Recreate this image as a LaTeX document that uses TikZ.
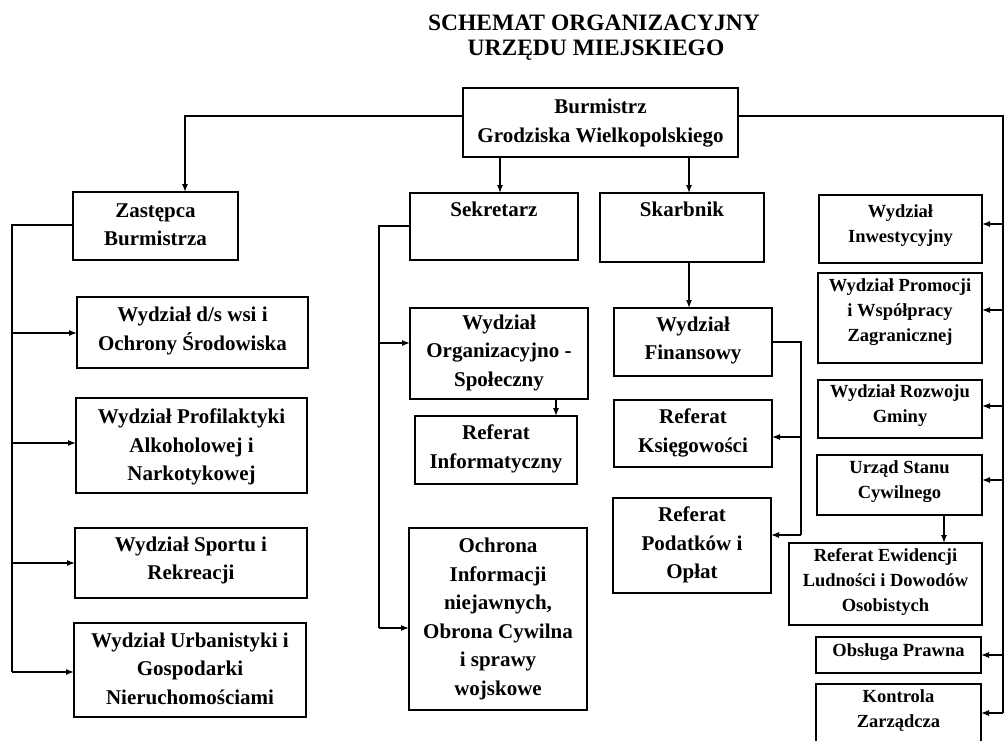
\documentclass[tikz,border=0pt]{standalone}
\usepackage{fontspec}
\setmainfont{Liberation Serif}
\usetikzlibrary{arrows.meta}
\begin{document}
\begin{tikzpicture}[x=1pt,y=-1pt,
  box/.style={draw, line width=1.8pt, inner sep=0pt, outer sep=0pt},
  txt/.style={align=center, inner sep=0pt, font=\fontsize{21}{28.5}\selectfont\bfseries},
  txs/.style={align=center, inner sep=0pt, font=\fontsize{18.5}{25}\selectfont\bfseries},
  ttl/.style={align=center, inner sep=0pt, font=\fontsize{23.5}{26}\selectfont\bfseries},
  con/.style={line width=1.3pt},
  arr/.style={line width=1.3pt, -{Latex[length=8pt,width=6pt]}}]
\useasboundingbox (0,0) rectangle (1004,740);
\fill[white] (0,0) rectangle (1004,740);
% title
\node[ttl] (title1) at (594,23) {SCHEMAT ORGANIZACYJNY};
\node[ttl] (title2) at (596,50) {URZĘDU MIEJSKIEGO};
% helper macro for boxes: name, x1,y1,x2,y2
\newcommand\bx[5]{\node[box, minimum width={#4-#2}, minimum height={#5-#3}] (#1) at ({(#2+#4)/2},{(#3+#5)/2}) {};}
\bx{burm}{463}{88}{738}{157}
\bx{zast}{73}{192}{238}{260}
\bx{sekr}{410}{193}{578}{260}
\bx{skar}{600}{193}{764}{262}
\bx{wsi}{77}{297}{308}{368}
\bx{prof}{76}{398}{307}{493}
\bx{sport}{75}{528}{307}{598}
\bx{urb}{74}{623}{306}{717}
\bx{org}{410}{308}{588}{399}
\bx{inf}{415}{416}{577}{484}
\bx{ochr}{409}{528}{587}{710}
\bx{fin}{614}{308}{772}{376}
\bx{ksieg}{614}{400}{772}{467}
\bx{pod}{613}{498}{771}{593}
\bx{inw}{819}{195}{982}{263}
\bx{prom}{818}{273}{982}{363}
\bx{rozw}{818}{380}{982}{438}
\bx{usc}{817}{455}{982}{515}
\bx{ewid}{789}{543}{982}{625}
\bx{prawna}{816}{637}{981}{673}
\bx{kontr}{816}{684}{981}{746}
% texts
\node[txt] (burm-t) at (600.5,123) {Burmistrz\\Grodziska Wielkopolskiego};
\node[txt] (zast-t) at (155.5,224.5) {Zastępca\\Burmistrza};
\node[txt] (sekr-t) at (494,209) {Sekretarz};
\node[txt] (skar-t) at (682,209) {Skarbnik};
\node[txt] (wsi-t) at (192.5,331) {Wydział d/s wsi i\\Ochrony Środowiska};
\node[txt] (prof-t) at (191.5,447) {Wydział Profilaktyki\\Alkoholowej i\\Narkotykowej};
\node[txt] (sport-t) at (191,560.5) {Wydział Sportu i\\Rekreacji};
\node[txt] (urb-t) at (190,668.5) {Wydział Urbanistyki i\\Gospodarki\\Nieruchomościami};
\node[txt] (org-t) at (499,352.5) {Wydział\\Organizacyjno -\\Społeczny};
\node[txt] (inf-t) at (496,449) {Referat\\Informatyczny};
\node[txt] (ochr-t) at (498,619) {Ochrona\\Informacji\\niejawnych,\\Obrona Cywilna\\i sprawy\\wojskowe};
\node[txt] (fin-t) at (693,340.5) {Wydział\\Finansowy};
\node[txt] (ksieg-t) at (693,433) {Referat\\Księgowości};
\node[txt] (pod-t) at (692,545) {Referat\\Podatków i\\Opłat};
\node[txs] (inw-t) at (900.5,225.5) {Wydział\\Inwestycyjny};
\node[txs] (prom-t) at (900,312.5) {Wydział Promocji\\i Współpracy\\Zagranicznej};
\node[txs] (rozw-t) at (900,406) {Wydział Rozwoju\\Gminy};
\node[txs] (usc-t) at (899.5,481.5) {Urząd Stanu\\Cywilnego};
\node[txs] (ewid-t) at (885.5,581.5) {Referat Ewidencji\\Ludności i Dowodów\\Osobistych};
\node[txs] (prawna-t) at (898.5,652) {Obsługa Prawna};
\node[txs] (kontr-t) at (898.5,710.5) {Kontrola\\Zarządcza};
% helper coordinates
\coordinate (yB) at (0,116);
\coordinate (xZ) at (185,0);
\coordinate (xR) at (1003,0);
\coordinate (xS) at (500,0);
\coordinate (xK) at (689,0);
\coordinate (xL) at (12,0);
\coordinate (yZ) at (0,225);
\coordinate (xM) at (379,0);
\coordinate (yS) at (0,226);
\coordinate (xO) at (556,0);
\coordinate (xF) at (801,0);
\coordinate (yF) at (0,342);
\coordinate (xU) at (944,0);
% Burmistrz connectors
\draw[arr] (burm.west |- yB) -| (zast.north -| xZ);
\draw[con] (burm.east |- yB) -- (xR |- yB) -- (xR |- 0,713);
\draw[arr] (burm.south -| xS) -- (sekr.north -| xS);
\draw[arr] (burm.south -| xK) -- (skar.north -| xK);
% right column
\draw[arr] (xR |- 0,224) -- (inw.east |- 0,224);
\draw[arr] (xR |- 0,310) -- (prom.east |- 0,310);
\draw[arr] (xR |- 0,406) -- (rozw.east |- 0,406);
\draw[arr] (xR |- 0,480) -- (usc.east |- 0,480);
\draw[arr] (xR |- 0,655) -- (prawna.east |- 0,655);
\draw[arr] (xR |- 0,713) -- (kontr.east |- 0,713);
\draw[arr] (usc.south -| xU) -- (ewid.north -| xU);
% Zastepca
\draw[con] (zast.west |- yZ) -- (xL |- yZ) -- (xL |- 0,672);
\draw[arr] (xL |- 0,333) -- (wsi.west |- 0,333);
\draw[arr] (xL |- 0,443) -- (prof.west |- 0,443);
\draw[arr] (xL |- 0,563) -- (sport.west |- 0,563);
\draw[arr] (xL |- 0,672) -- (urb.west |- 0,672);
% Sekretarz
\draw[con] (sekr.west |- yS) -- (xM |- yS) -- (xM |- 0,628);
\draw[arr] (xM |- 0,343) -- (org.west |- 0,343);
\draw[arr] (xM |- 0,628) -- (ochr.west |- 0,628);
\draw[arr] (org.south -| xO) -- (inf.north -| xO);
% Skarbnik
\draw[arr] (skar.south -| xK) -- (fin.north -| xK);
\draw[con] (fin.east |- yF) -- (xF |- yF) -- (xF |- 0,535);
\draw[arr] (xF |- 0,437) -- (ksieg.east |- 0,437);
\draw[arr] (xF |- 0,535) -- (pod.east |- 0,535);
\end{tikzpicture}
\end{document}
